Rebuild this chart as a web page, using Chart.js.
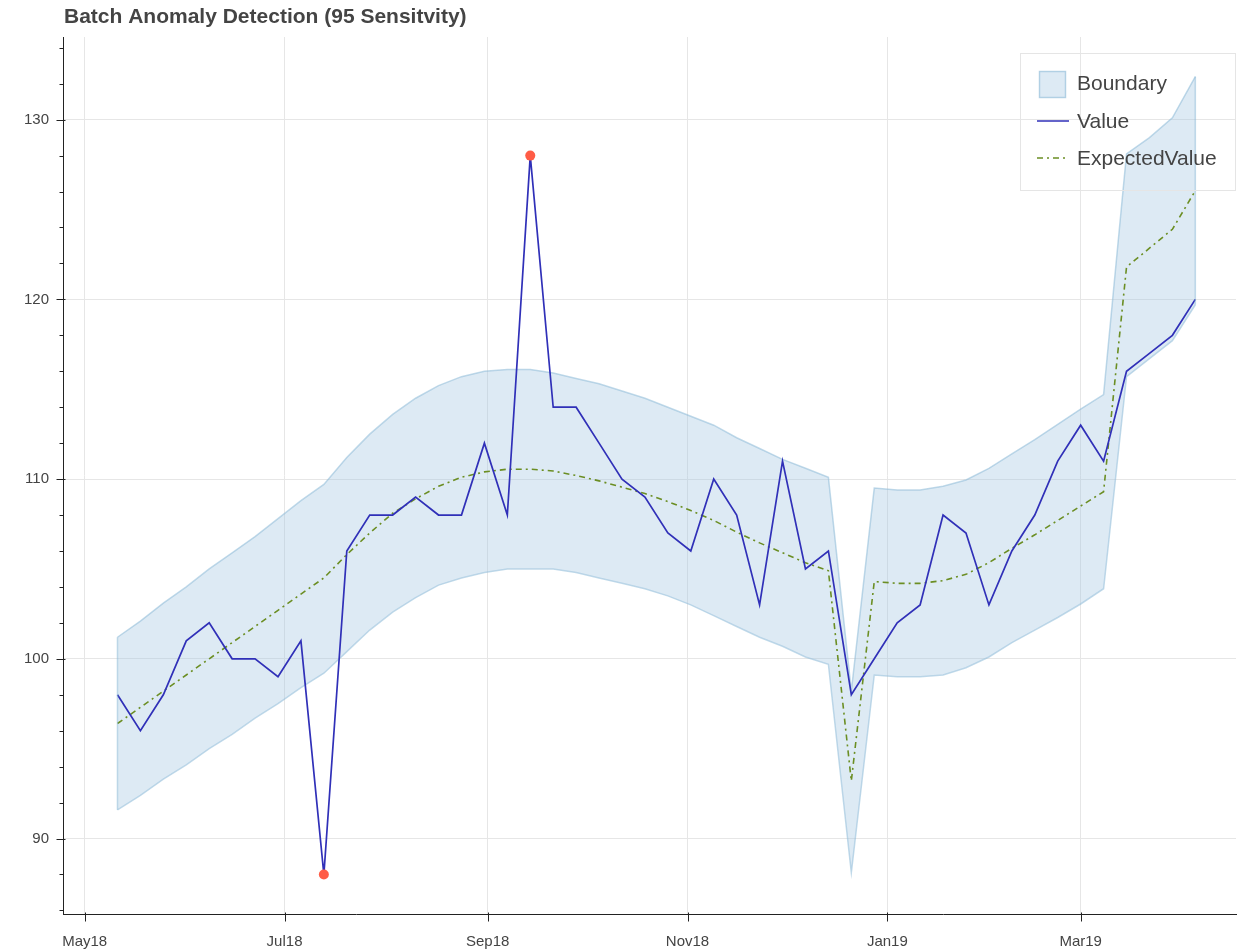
<!DOCTYPE html>
<html>
<head>
<meta charset="utf-8">
<script src="https://cdn.jsdelivr.net/npm/chart.js@4/dist/chart.umd.min.js"></script>
<style>
  html, body { margin: 0; padding: 0; background: #fff; }
  #wrap { width: 1241px; height: 951px; }
</style>
</head>
<body>
<div id="wrap"><canvas id="chart" width="1241" height="951"></canvas></div>
<script>
// weekly batches
const dates = [
  '2018-05-11','2018-05-18','2018-05-25','2018-06-01','2018-06-08','2018-06-15','2018-06-22','2018-06-29',
  '2018-07-06','2018-07-13','2018-07-20','2018-07-27','2018-08-03','2018-08-10','2018-08-17','2018-08-24',
  '2018-08-31','2018-09-07','2018-09-14','2018-09-21','2018-09-28','2018-10-05','2018-10-12','2018-10-19',
  '2018-10-26','2018-11-02','2018-11-09','2018-11-16','2018-11-23','2018-11-30','2018-12-07','2018-12-14',
  '2018-12-21','2018-12-28','2019-01-04','2019-01-11','2019-01-18','2019-01-25','2019-02-01','2019-02-08',
  '2019-02-15','2019-02-22','2019-03-01','2019-03-08','2019-03-15','2019-03-22','2019-03-29','2019-04-05'
];
const values = [
  98, 96, 98, 101, 102, 100, 100, 99, 101, 88,
  106, 108, 108, 109, 108, 108, 112, 108, 128, 114,
  114, 112, 110, 109, 107, 106, 110, 108, 103, 111,
  105, 106, 98, 100, 102, 103, 108, 107, 103, 106,
  108, 111, 113, 111, 116, 117, 118, 120
];
const expected = [
  96.4, 97.3, 98.2, 99.1, 100.0, 100.9, 101.8, 102.7, 103.6, 104.5,
  105.8, 107.0, 108.1, 108.9, 109.6, 110.1, 110.4, 110.55, 110.55, 110.45,
  110.2, 109.9, 109.55, 109.2, 108.75, 108.25, 107.7, 107.05, 106.45, 105.9,
  105.35, 104.9, 93.2, 104.3, 104.2, 104.2, 104.35, 104.7, 105.35, 106.15,
  106.9, 107.7, 108.5, 109.3, 121.8, 122.85, 123.9, 126.05
];
const upper = [
  101.2, 102.1, 103.1, 104.0, 105.0, 105.9, 106.8, 107.8, 108.8, 109.7,
  111.2, 112.5, 113.6, 114.5, 115.2, 115.7, 116.0, 116.1, 116.1, 115.9,
  115.6, 115.3, 114.9, 114.5, 114.0, 113.5, 113.0, 112.3, 111.7, 111.1,
  110.6, 110.1, 98.2, 109.5, 109.4, 109.4, 109.6, 109.95, 110.6, 111.4,
  112.2, 113.05, 113.9, 114.7, 128.1, 129.0, 130.1, 132.4
];
const lower = [
  91.6, 92.4, 93.3, 94.1, 95.0, 95.8, 96.7, 97.5, 98.4, 99.2,
  100.4, 101.6, 102.6, 103.4, 104.1, 104.5, 104.8, 105.0, 105.0, 105.0,
  104.8, 104.5, 104.2, 103.9, 103.5, 103.0, 102.4, 101.8, 101.2, 100.7,
  100.1, 99.7, 88.1, 99.1, 99.0, 99.0, 99.1, 99.5, 100.1, 100.9,
  101.6, 102.3, 103.05, 103.9, 115.7, 116.7, 117.7, 119.7
];
const anomalyDates = ['2018-07-13', '2018-09-14'];
const anomalyValues = [88, 128];

const monthTicks = ['2018-05-01','2018-07-01','2018-09-01','2018-11-01','2019-01-01','2019-03-01'];
const monthLabels = ['May18','Jul18','Sep18','Nov18','Jan19','Mar19'];
const yTicks = [90, 100, 110, 120, 130];
const yMinorStep = 2;

const xMin = '2018-04-24T09:00:00Z';
const xMax = '2019-04-17T10:00:00Z';
const yMin = 85.8;
const yMax = 134.6;

const toDay = s => Date.parse(s.length > 10 ? s : s + 'T00:00:00Z') / 86400000;
const pts = arr => arr.map((v, i) => ({ x: toDay(dates[i]), y: v }));

const BAND_FILL = 'rgba(165,200,225,0.38)';
const BAND_LINE = 'rgba(140,185,215,0.55)';
const VALUE_COLOR = 'rgb(48,48,184)';
const EXP_COLOR = 'rgb(107,142,35)';
const EXP_DASH = [6, 4, 2, 4];
const TEXT = '#444';
const FONT = '"Liberation Sans", Arial, Helvetica, sans-serif';

// title, axis ticks, band edges and legend
const extras = {
  id: 'extras',
  afterDraw(chart) {
    const ctx = chart.ctx;
    const area = chart.chartArea;
    const xs = chart.scales.x, ys = chart.scales.y;
    ctx.save();

    // band end caps
    ctx.strokeStyle = BAND_LINE;
    ctx.lineWidth = 1.5;
    [0, dates.length - 1].forEach(i => {
      const px = xs.getPixelForValue(toDay(dates[i]));
      ctx.beginPath();
      ctx.moveTo(px, ys.getPixelForValue(lower[i]));
      ctx.lineTo(px, ys.getPixelForValue(upper[i]));
      ctx.stroke();
    });

    // y ticks
    ctx.strokeStyle = '#222';
    ctx.lineWidth = 1;
    const ax = Math.round(area.left) + 0.5;
    for (let v = Math.ceil(yMin / yMinorStep) * yMinorStep; v <= yMax; v += yMinorStep) {
      const py = Math.round(ys.getPixelForValue(v)) + 0.5;
      const major = yTicks.includes(v);
      ctx.beginPath();
      ctx.moveTo(ax - (major ? 7 : 4), py);
      ctx.lineTo(ax + (major ? 2 : 0), py);
      ctx.stroke();
    }
    // x ticks
    const ay = Math.round(area.bottom) + 0.5;
    monthTicks.forEach(s => {
      const px = Math.round(xs.getPixelForValue(toDay(s))) + 0.5;
      ctx.beginPath();
      ctx.moveTo(px, ay - 2);
      ctx.lineTo(px, ay + 7);
      ctx.stroke();
    });

    // title
    ctx.fillStyle = TEXT;
    ctx.font = 'bold 21px ' + FONT;
    ctx.textAlign = 'left';
    ctx.textBaseline = 'middle';
    ctx.fillText('Batch Anomaly Detection (95 Sensitvity)', area.left + 1, 17);

    // legend
    const lx = 1020, ly = 53, lw = 215, lh = 137;
    ctx.strokeStyle = '#e5e5e5';
    ctx.lineWidth = 1;
    ctx.strokeRect(lx + 0.5, ly + 0.5, lw, lh);

    ctx.fillStyle = BAND_FILL;
    ctx.fillRect(1039, 71, 27, 27);
    ctx.strokeStyle = BAND_LINE;
    ctx.lineWidth = 1.5;
    ctx.strokeRect(1039.5, 71.5, 26, 26);

    ctx.strokeStyle = VALUE_COLOR;
    ctx.lineWidth = 1.5;
    ctx.beginPath();
    ctx.moveTo(1037, 121);
    ctx.lineTo(1069, 121);
    ctx.stroke();

    ctx.strokeStyle = EXP_COLOR;
    ctx.lineWidth = 1.5;
    ctx.setLineDash(EXP_DASH);
    ctx.beginPath();
    ctx.moveTo(1037, 158);
    ctx.lineTo(1069, 158);
    ctx.stroke();
    ctx.setLineDash([]);

    ctx.fillStyle = TEXT;
    ctx.font = '21px ' + FONT;
    ctx.fillText('Boundary', 1077, 84);
    ctx.fillText('Value', 1077, 122);
    ctx.fillText('ExpectedValue', 1077, 159);

    ctx.restore();
  }
};

new Chart(document.getElementById('chart'), {
  type: 'line',
  data: {
    datasets: [
      {
        label: 'Upper',
        data: pts(upper),
        borderColor: BAND_LINE,
        borderWidth: 1.5,
        backgroundColor: BAND_FILL,
        fill: 1,
        pointRadius: 0,
        tension: 0,
        order: 3
      },
      {
        label: 'Lower',
        data: pts(lower),
        borderColor: BAND_LINE,
        borderWidth: 1.5,
        fill: false,
        pointRadius: 0,
        tension: 0,
        order: 4
      },
      {
        label: 'Value',
        data: pts(values),
        borderColor: VALUE_COLOR,
        borderWidth: 1.7,
        fill: false,
        pointRadius: 0,
        tension: 0,
        order: 1
      },
      {
        label: 'ExpectedValue',
        data: pts(expected),
        borderColor: EXP_COLOR,
        borderWidth: 1.6,
        borderDash: EXP_DASH,
        fill: false,
        pointRadius: 0,
        tension: 0,
        order: 2
      },
      {
        label: 'Anomaly',
        data: anomalyDates.map((d, i) => ({ x: toDay(d), y: anomalyValues[i] })),
        showLine: false,
        pointRadius: 5,
        pointBorderWidth: 0,
        pointBackgroundColor: 'rgb(255,92,70)',
        pointBorderColor: 'rgb(255,92,70)',
        order: 0
      }
    ]
  },
  options: {
    responsive: false,
    animation: false,
    events: [],
    layout: { padding: { top: 37, right: 4, left: 0, bottom: 0 } },
    plugins: {
      legend: { display: false },
      title: { display: false },
      tooltip: { enabled: false }
    },
    scales: {
      x: {
        type: 'linear',
        min: toDay(xMin),
        max: toDay(xMax),
        afterBuildTicks: scale => { scale.ticks = monthTicks.map(s => ({ value: toDay(s) })); },
        afterFit: scale => { scale.height = 37; },
        ticks: {
          autoSkip: false,
          maxRotation: 0,
          padding: 19,
          color: TEXT,
          font: { family: FONT, size: 15 },
          callback: (v, i) => monthLabels[i]
        },
        grid: { color: '#e6e6e6', lineWidth: 1, drawTicks: false },
        border: { display: true, color: '#222', width: 1 }
      },
      y: {
        type: 'linear',
        min: yMin,
        max: yMax,
        afterBuildTicks: scale => { scale.ticks = yTicks.map(v => ({ value: v })); },
        afterFit: scale => { scale.width = 63; },
        ticks: {
          padding: 14,
          color: TEXT,
          font: { family: FONT, size: 15 },
          callback: v => String(v)
        },
        grid: { color: '#e6e6e6', lineWidth: 1, drawTicks: false },
        border: { display: true, color: '#222', width: 1 }
      }
    }
  },
  plugins: [extras]
});
</script>
</body>
</html>
